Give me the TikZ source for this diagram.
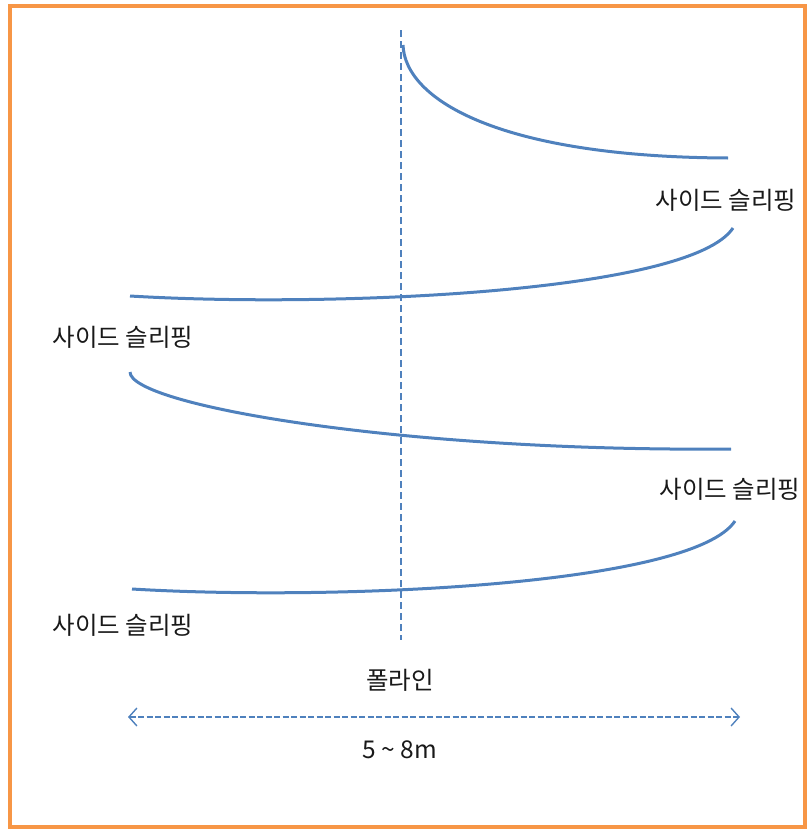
\documentclass[tikz,border=0pt]{standalone}
\usepackage{fontspec}
\newfontfamily\kr{Noto Sans CJK KR}
\usetikzlibrary{arrows.meta}
\definecolor{lineblue}{HTML}{4F81BD}
\definecolor{frameorange}{HTML}{F79646}
\tikzset{
  slide/.style={draw=lineblue, line width=3pt},
  pole/.style={draw=lineblue, dash pattern=on 7pt off 4pt, line width=1.4pt},
  lbl/.style={font=\kr\fontsize{24.5}{28}\selectfont, text=black!90, inner sep=0pt},
  dimarr/.style={{Straight Barb[length=8pt,width=18pt]}-{Straight Barb[length=8pt,width=18pt]},
    dash pattern=on 6pt off 2.5pt, draw=lineblue, line width=1.4pt},
}
\begin{document}
\begin{tikzpicture}[x=1pt, y=-1pt]
  \useasboundingbox (0,0) rectangle (807,830);
  \draw[frameorange, line width=4pt] (10,6) rectangle (805,827);

  % pole line
  \coordinate (pt) at (401,30);
  \coordinate (pb) at (401,640);
  \draw[pole] (pt) -- (pb);
  \node[lbl] (pole) at (400,680) {폴라인};

  % turns
  \coordinate (s1) at (403,45);   \coordinate (e1) at (728,158);
  \coordinate (s2) at (733,228);  \coordinate (e2) at (130,296);
  \coordinate (s3) at (130,372);  \coordinate (e3) at (731,449);
  \coordinate (s4) at (735,521);  \coordinate (e4) at (132,589);
  \draw[slide] (s1) .. controls (405,100) and (500,157) .. (e1);
  \draw[slide] (s2) .. controls (690,293) and (330,308) .. (e2);
  \draw[slide] (s3) .. controls (130,405) and (400,452) .. (e3);
  \draw[slide] (s4) .. controls (692,586) and (332,601) .. (e4);

  \node[lbl] (t1) at (726,200) {사이드 슬리핑};
  \node[lbl] (t2) at (123,337) {사이드 슬리핑};
  \node[lbl] (t3) at (730,489) {사이드 슬리핑};
  \node[lbl] (t4) at (123,625) {사이드 슬리핑};

  % width
  \coordinate (wl) at (128,717);
  \coordinate (wr) at (740,717);
  \draw[dimarr] (wl) -- (wr);
  \node[lbl] (w) at (400,750) {5 \textasciitilde{} 8m};
\end{tikzpicture}
\end{document}
